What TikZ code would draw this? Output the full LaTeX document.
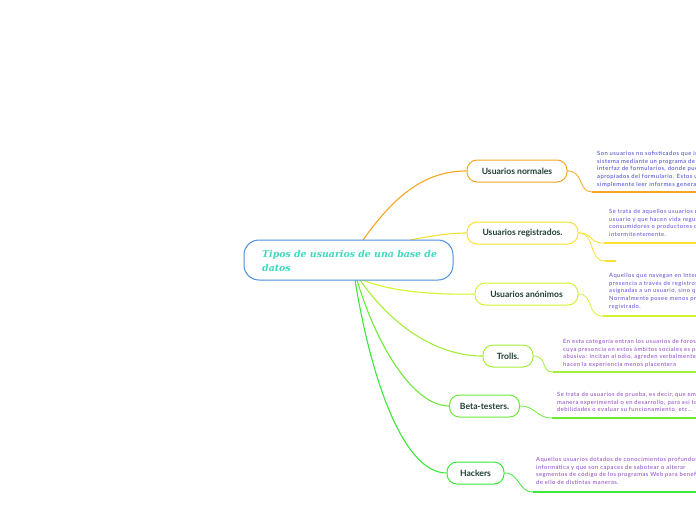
\documentclass[tikz,border=0pt]{standalone}
\usepackage{fontspec}
\setmainfont{Lato}
\newfontfamily\titlefont{DejaVu Serif}
\newfontfamily\descfont[LetterSpace=8]{Lato}
\definecolor{cO}{HTML}{F5A623}
\definecolor{cY}{HTML}{F8E130}
\definecolor{cA}{HTML}{D6F22E}
\definecolor{cT}{HTML}{A4EE3A}
\definecolor{cB}{HTML}{6CE83A}
\definecolor{cH}{HTML}{3AE83A}
\definecolor{cC}{HTML}{4A90D9}
\definecolor{cTitle}{HTML}{3DD9BE}
\definecolor{cLabel}{HTML}{1E3F32}
\definecolor{dA}{HTML}{3F3FC8}
\definecolor{dB}{HTML}{5B4BD6}
\definecolor{dC}{HTML}{8A44C4}
\tikzset{
  branch/.style={draw=#1, line width=1pt, rounded corners=10pt, fill=white,
    font=\bfseries\fontsize{8.6}{9}\selectfont, text=cLabel, inner sep=0pt, minimum height=22pt},
  desc/.style={anchor=north west, inner sep=0pt, align=left, text=#1,
    font=\descfont\fontsize{5.8}{7.6}\selectfont},
  link/.style={draw=#1, line width=1.1pt},
  uline/.style={draw=#1, line width=2pt},
}
\begin{document}
\begin{tikzpicture}[x=1pt,y=-1pt]
\useasboundingbox (0,0) rectangle (696,520);
\clip (0,0) rectangle (696,520);

% branch nodes
\node[branch=cO, minimum width=100pt] (n1) at (517,171) {Usuarios normales};
\node[branch=cY, minimum width=111pt] (n2) at (522.5,233) {Usuarios registrados.};
\node[branch=cA, minimum width=103pt] (n3) at (526.5,294) {Usuarios anónimos};
\node[branch=cT, minimum width=50pt] (n4) at (508,356) {Trolls.};
\node[branch=cB, minimum width=70pt] (n5) at (484.5,406) {Beta-testers.};
\node[branch=cH, minimum width=57pt] (n6) at (475.5,473) {Hackers};

% attachment points on central node
\coordinate (s1) at (363,240);
\coordinate (s2) at (410,240);
\coordinate (s3) at (363,280);
\coordinate (s4) at (360,280);
\coordinate (s5) at (357,280);
\coordinate (s6) at (355,280);

\draw[link=cO] (s1) .. controls (395,195) and (425,171) .. (n1.west);
\draw[link=cY] (s2) .. controls (430,236) and (450,233) .. (n2.west);
\draw[link=cA] (s3) .. controls (390,292) and (440,295) .. (n3.west);
\draw[link=cT] (s4) .. controls (395,330) and (440,356) .. (n4.west);
\draw[link=cB] (s5) .. controls (378,350) and (415,406) .. (n5.west);
\draw[link=cH] (s6) .. controls (372,385) and (405,473) .. (n6.west);

% central node
\node[draw=cC, line width=1pt, rounded corners=15pt, fill=white, minimum width=209pt, minimum height=40pt, inner sep=0pt] (c) at (348.5,260) {};
\node[anchor=west, inner sep=0pt, align=left, text=cTitle, font=\titlefont\bfseries\itshape\fontsize{9.4}{14}\selectfont] (ct) at (262,261) {Tipos de usuarios de una base de\\datos};

% underline coordinates
\coordinate (u1) at (592,192); \coordinate (u1e) at (700,192);
\coordinate (u2) at (604,243); \coordinate (u2e) at (700,243);
\coordinate (u2b) at (605,261); \coordinate (u2be) at (616,261);
\coordinate (u3) at (603,316); \coordinate (u3e) at (700,316);
\coordinate (u4) at (553,372); \coordinate (u4e) at (700,372);
\coordinate (u5) at (552,418); \coordinate (u5e) at (700,418);
\coordinate (u6) at (533,492); \coordinate (u6e) at (700,492);

\draw[link=cO, line width=0.8pt] (n1.east) .. controls (584,171) and (578,192) .. (u1);
\draw[uline=cO] (u1) -- (u1e);
\draw[link=cY, line width=0.8pt] (n2.east) .. controls (594,233) and (588,243) .. (u2);
\draw[uline=cY] (u2) -- (u2e);
\draw[link=cY, line width=0.8pt] (n2.east) .. controls (596,233) and (588,261) .. (u2b);
\draw[uline=cY] (u2b) -- (u2be);
\draw[link=cA, line width=0.8pt] (n3.east) .. controls (594,294) and (586,316) .. (u3);
\draw[uline=cA] (u3) -- (u3e);
\draw[link=cT, line width=0.8pt] (n4.east) .. controls (548,356) and (540,372) .. (u4);
\draw[uline=cT] (u4) -- (u4e);
\draw[link=cB, line width=0.8pt] (n5.east) .. controls (536,406) and (536,418) .. (u5);
\draw[uline=cB] (u5) -- (u5e);
\draw[link=cH, line width=0.8pt] (n6.east) .. controls (520,473) and (518,492) .. (u6);
\draw[uline=cH] (u6) -- (u6e);

% descriptions
\node[desc=dA] (d1) at (597,151.2) {Son usuarios no sofisticados que interactúan con el\\sistema mediante un programa de aplicación con una\\interfaz de formularios, donde pueden rellenar los campos\\apropiados del formulario. Estos usuarios pueden también\\simplemente leer informes generados de la base de datos.};
\node[desc=dB] (d2) at (609,209.2) {Se trata de aquellos usuarios de la base de datos que poseen un\\usuario y que hacen vida regular en ella, ya sea como\\consumidores o productores de información, aunque sea\\intermitentemente.};
\node[desc=dB] (d3) at (609,273.2) {Aquellos que navegan en Internet sin tener una\\presencia a través de registros, cuentas o datos\\asignadas a un usuario, sino que lo hacen anónimamente.\\Normalmente posee menos privilegios que un usuario\\registrado.};
\node[desc=dC] (d4) at (563,339.2) {En esta categoría entran los usuarios de foros y redes sociales\\cuya presencia en estos ámbitos sociales es problemática y\\abusiva: incitan al odio, agreden verbalmente a otros y\\hacen la experiencia menos placentera};
\node[desc=dC] (d5) at (557,392.2) {Se trata de usuarios de prueba, es decir, que emplean el sistema de\\manera experimental o en desarrollo, para así tomar nota de sus\\debilidades o evaluar su funcionamiento, etc..};
\node[desc=dC] (d6) at (536,457.2) {Aquellos usuarios dotados de conocimientos profundos de\\informática y que son capaces de sabotear o alterar\\segmentos de código de los programas Web para beneficiarse\\de ello de distintas maneras.};
\end{tikzpicture}
\end{document}
